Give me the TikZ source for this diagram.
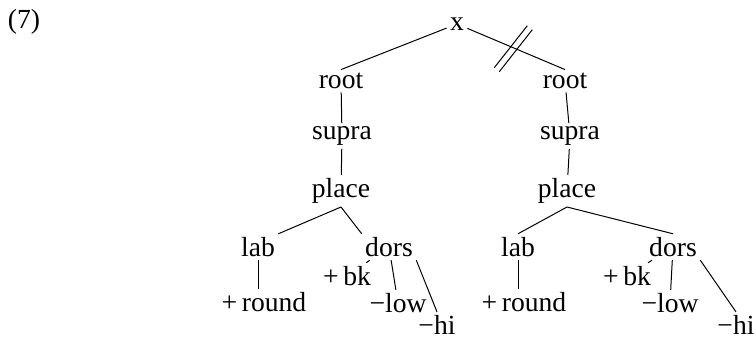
\documentclass[tikz,border=0pt]{standalone}
\usepackage{fontspec}
\setmainfont{Liberation Serif}
\begin{document}
\begin{tikzpicture}[x=0.5pt, y=-0.5pt, line width=0.5pt,
  font=\fontsize{13.8}{16}\selectfont,
  feat/.style={inner sep=1.5pt}]
\useasboundingbox (0,0) rectangle (756,340);
\node[feat] (num) at (24,22) {(7)};
\node[feat] (x) at (457,24) {x};
% left tree
\node[feat] (rootL) at (341,81) {root};
\node[feat] (supraL) at (342,136) {supra};
\node[feat] (placeL) at (341,191) {place};
\node[feat] (labL) at (258,247) {lab};
\node[feat] (dorsL) at (389,247) {dors};
\node[feat] (bkL) at (347,276) {+\,bk};
\node[feat] (roundL) at (264,302) {+\,round};
\node[feat] (lowL) at (398,303) {−low};
\node[feat] (hiL) at (437,325) {−hi};
% right tree
\node[feat] (rootR) at (565,81) {root};
\node[feat] (supraR) at (570,136) {supra};
\node[feat] (placeR) at (567,191) {place};
\node[feat] (labR) at (518,247) {lab};
\node[feat] (dorsR) at (673,247) {dors};
\node[feat] (bkR) at (627,276) {+\,bk};
\node[feat] (roundR) at (524,302) {+\,round};
\node[feat] (lowR) at (670,303) {−low};
\node[feat] (hiR) at (736,325) {−hi};
\path [-, draw=black] (x) edge (rootL.north);
\path [-, draw=black] (x) edge coordinate[pos=0.47] (cut) (rootR.north);
\path [-, draw=black] (rootL) edge (supraL);
\path [-, draw=black] (supraL) edge (placeL);
\path [-, draw=black] (placeL.south) edge (labL.north east);
\path [-, draw=black] (placeL.south) edge (dorsL.north west);
\path [-, draw=black] (labL.south) edge (roundL.north -| labL.south);
\path [-, draw=black] (dorsL) edge (bkL);
\path [-, draw=black] (dorsL) edge (lowL);
\path [-, draw=black] (dorsL.south east) edge (hiL.north);
\path [-, draw=black] (rootR) edge (supraR);
\path [-, draw=black] (supraR) edge (placeR);
\path [-, draw=black] (placeR.south) edge (labR.north);
\path [-, draw=black] (placeR.south) edge (dorsR.north);
\path [-, draw=black] (labR.south) edge (roundR.north -| labR.south);
\path [-, draw=black] (dorsR) edge (bkR);
\path [-, draw=black] (dorsR) edge (lowR);
\path [-, draw=black] (dorsR.south east) edge (hiR.north);
% the cut on the right branch
\draw ([shift={(-19,20)}]cut) -- ([shift={(14,-22)}]cut);
\draw ([shift={(-14,24)}]cut) -- ([shift={(19,-18)}]cut);
\end{tikzpicture}
\end{document}
